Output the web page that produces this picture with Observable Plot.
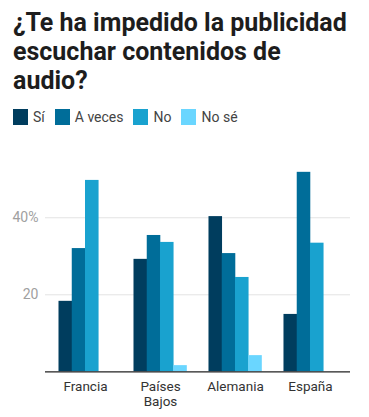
<!DOCTYPE html>
<html>
<head>
<meta charset="utf-8">
<script src="https://cdn.jsdelivr.net/npm/d3@7"></script>
<script src="https://cdn.jsdelivr.net/npm/@observablehq/plot@0.6"></script>
<style>
  html, body { margin: 0; padding: 0; background: #fff; }
  body { width: 369px; height: 417px; position: relative; overflow: hidden; font-family: Roboto, sans-serif; }
  #title { position: absolute; left: 13px; top: 8px; width: 338px; font-size: 25px; font-weight: 700; line-height: 29px; color: #1d1d1d; }
  #legend { position: absolute; left: 13px; top: 109px; display: flex; align-items: center; font-size: 14px; color: #444; }
  .item { display: flex; align-items: center; margin-right: 10px; }
  .sw { width: 15px; height: 16px; margin-right: 5px; }
  #chart { position: absolute; left: 0; top: 140px; }
</style>
</head>
<body>
<div id="title">¿Te ha impedido la publicidad escuchar contenidos de audio?</div>
<div id="legend"></div>
<div id="chart"></div>
<script>
const countries = ["Francia", "Países Bajos", "Alemania", "España"];
const responses = ["Sí", "A veces", "No", "No sé"];
const colors = ["#003d5e", "#006d99", "#19a2cf", "#6ad6ff"];
const si      = [18.3, 29.2, 40.3, 14.9];
const aVeces  = [32.0, 35.4, 30.7, 51.8];
const no      = [49.7, 33.6, 24.5, 33.4];
const noSe    = [0, 1.6, 4.2, 0];
const yTicks = [20, 40];

const series = [si, aVeces, no, noSe];

const legend = document.getElementById("legend");
responses.forEach((r, j) => {
  const it = document.createElement("div");
  it.className = "item";
  it.innerHTML = `<div class="sw" style="background:${colors[j]}"></div><span>${r}</span>`;
  legend.appendChild(it);
});

const width = 369, marginLeft = 45, marginRight = 19;
const paddingInner = 0.293, paddingOuter = 0.18;
const n = countries.length;
const step = (width - marginLeft - marginRight) / (n - paddingInner + 2 * paddingOuter);
const bandwidth = step * (1 - paddingInner);
const barW = bandwidth / responses.length;

const barMarks = responses.map((r, j) => {
  const rows = countries.map((c, i) => ({country: c, response: r, value: series[j][i]})).filter(d => d.value > 0);
  return Plot.barY(rows, {
    x: "country", y: "value", fill: "response",
    insetLeft: j * barW, insetRight: (responses.length - 1 - j) * barW - 0.3
  });
});

const chart = Plot.plot({
  width,
  height: 277,
  marginLeft,
  marginRight,
  marginTop: 19.5,
  marginBottom: 45.7,
  style: {fontFamily: "Roboto, sans-serif", background: "transparent"},
  x: {domain: countries, paddingInner, paddingOuter, round: false, axis: null, label: null},
  y: {domain: [0, 55], axis: null, label: null},
  color: {domain: responses, range: colors},
  marks: [
    Plot.gridY(yTicks, {stroke: "#e3e3e3", strokeOpacity: 1}),
    ...barMarks,
    Plot.ruleY([0], {stroke: "#222", strokeWidth: 1.2}),
    Plot.axisY(yTicks, {anchor: "left", tickSize: 0, tickPadding: 7, fontSize: 14, color: "#a0a0a0", label: null,
      tickFormat: d => d === 40 ? "40%" : String(d)}),
    Plot.axisX({anchor: "bottom", tickSize: 0, tickPadding: 8, fontSize: 13.5, color: "#333", label: null,
      lineHeight: 1.12, tickFormat: d => d.replace(" ", "\n")})
  ]
});
document.getElementById("chart").appendChild(chart);
</script>
</body>
</html>
